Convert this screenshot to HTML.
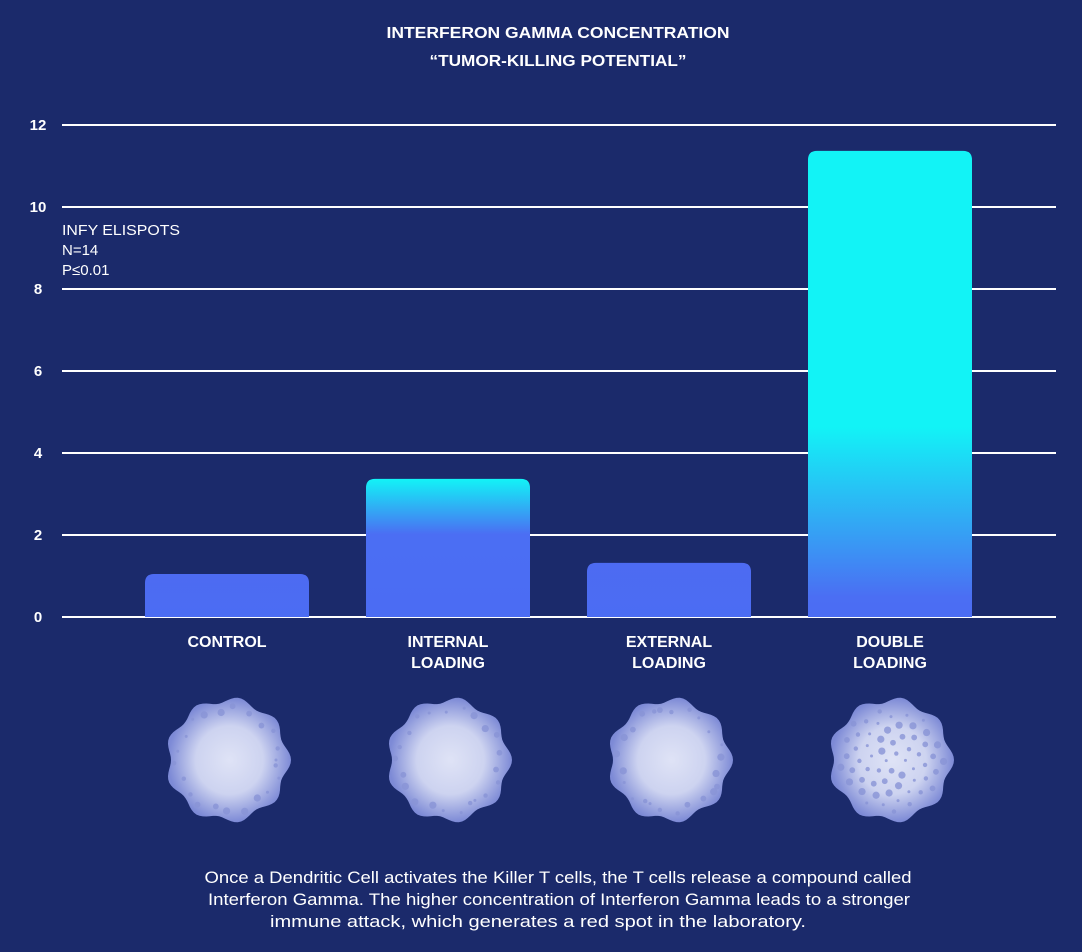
<!DOCTYPE html>
<html><head><meta charset="utf-8"><style>
html,body{margin:0;padding:0;background:#1b2a6b;}
svg{display:block;font-family:"Liberation Sans",sans-serif;}
</style></head><body>
<svg id="chart" width="1082" height="952" viewBox="0 0 1082 952">
<defs>
<radialGradient id="cellG" cx="0.5" cy="0.5" r="0.5">
<stop offset="0" stop-color="#dfe3f6"/><stop offset="0.55" stop-color="#cdd3f0"/><stop offset="1" stop-color="#7d8ad6"/>
</radialGradient>
</defs>
<rect width="1082" height="952" fill="#1b2a6b"/>
<text x="558" y="38" text-anchor="middle" fill="#fff" font-size="16" font-weight="bold" textLength="343" lengthAdjust="spacingAndGlyphs">INTERFERON GAMMA CONCENTRATION</text>
<text x="558" y="66" text-anchor="middle" fill="#fff" font-size="16" font-weight="bold" textLength="257" lengthAdjust="spacingAndGlyphs">“TUMOR-KILLING POTENTIAL”</text>
<g id="grid"></g><g id="bars"></g><g id="cells"></g>
<text x="62" y="235" fill="#fff" font-size="15" textLength="118" lengthAdjust="spacingAndGlyphs">INFY ELISPOTS</text>
<text x="62" y="255" fill="#fff" font-size="15">N=14</text>
<text x="62" y="275" fill="#fff" font-size="15">P≤0.01</text>
<g fill="#fff" font-size="17" text-anchor="middle" lengthAdjust="spacingAndGlyphs">
<text x="558" y="883" textLength="707" lengthAdjust="spacingAndGlyphs">Once a Dendritic Cell activates the Killer T cells, the T cells release a compound called</text>
<text x="559" y="905" textLength="702" lengthAdjust="spacingAndGlyphs">Interferon Gamma. The higher concentration of Interferon Gamma leads to a stronger</text>
<text x="538" y="927" textLength="536" lengthAdjust="spacingAndGlyphs">immune attack, which generates a red spot in the laboratory.</text>
</g>
</svg>
<script>
const categories = [["CONTROL"],["INTERNAL","LOADING"],["EXTERNAL","LOADING"],["DOUBLE","LOADING"]];
const values = [1.05, 3.37, 1.32, 11.37];
const yTicks = [0,2,4,6,8,10,12];
const dotCounts = [22, 22, 24, 60];

const NS="http://www.w3.org/2000/svg";
const svg=document.getElementById('chart');
const x0=62,x1=1056,y0=617,yTop=125,yMax=12;
const y=v=>y0-(y0-yTop)*v/yMax;
const firstC=227,step=221;
const xc=i=>firstC+step*i;
const barW=164,rad=9;
function mk(tag,attrs,parent){const e=document.createElementNS(NS,tag);for(const k in attrs)e.setAttribute(k,attrs[k]);parent.appendChild(e);return e;}

const grid=document.getElementById('grid');
yTicks.forEach(t=>{
  const l=mk('line',{x1:x0,x2:x1,y1:y(t),y2:y(t),stroke:'#fff','stroke-width':2},grid);
  
  
  const tx=mk('text',{x:38,y:y(t)+5,'text-anchor':'middle',fill:'#fff','font-size':15,'font-weight':'bold'},grid);
  tx.textContent=t;
  
  
});

const defs=svg.querySelector('defs');
const bars=document.getElementById('bars');
values.forEach((v,i)=>{
  const top=y(v),h=y0-top;
  const g=mk('linearGradient',{id:'bg'+i,x1:0,y1:0,x2:0,y2:1},defs);
  if(v>2){
    const s=Math.max(0,(h-190)/h);
    const e=Math.min(1,(s*h+Math.min(h*0.4,170))/h);
    mk('stop',{offset:0,'stop-color':'#12f3f6'},g);
    mk('stop',{offset:s,'stop-color':'#12f3f6'},g);
    mk('stop',{offset:e,'stop-color':'#4b6ef3'},g);
  } else {mk('stop',{offset:0,'stop-color':'#4d6bf2'},g);}
  mk('stop',{offset:1,'stop-color':'#4b6cf3'},g);
  const L=xc(i)-barW/2,Rr=xc(i)+barW/2;
  const r=mk('path',{d:`M${L},${y0}V${top+rad}Q${L},${top} ${L+rad},${top}H${Rr-rad}Q${Rr},${top} ${Rr},${top+rad}V${y0}Z`,fill:`url(#bg${i})`},bars);
  
  
  categories[i].forEach((s,j)=>{
    const t=mk('text',{x:xc(i),y:647+j*21,'text-anchor':'middle',fill:'#fff','font-size':16,'font-weight':'bold'},bars);
    t.textContent=s;
    
    
  });
});

const cells=document.getElementById('cells');
categories.forEach((c,i)=>{
  const cx=xc(i)+1,cyy=760,R=60;
  let d='';
  for(let k=0;k<=120;k++){const a=k/120*Math.PI*2;const r=R+3*Math.cos(a*9);d+=(k?'L':'M')+(cx+r*Math.cos(a)).toFixed(1)+','+(cyy+r*Math.sin(a)).toFixed(1);}
  const p=mk('path',{d:d+'Z',fill:'url(#cellG)'},cells);
  
  
  const n=dotCounts[i];
  for(let k=0;k<n;k++){
    const a=k*2.399+i;
    const rr=i===3?R*Math.sqrt((k+0.5)/n)*0.88:R*(0.8+0.1*((k*7)%3)/2);
    const dot=mk('circle',{cx:cx+rr*Math.cos(a),cy:cyy+rr*Math.sin(a),r:1.5+(k*5%4)*0.7,fill:'#8893d6',opacity:0.8},cells);
    
    
  }
});
</script>
</body></html>
